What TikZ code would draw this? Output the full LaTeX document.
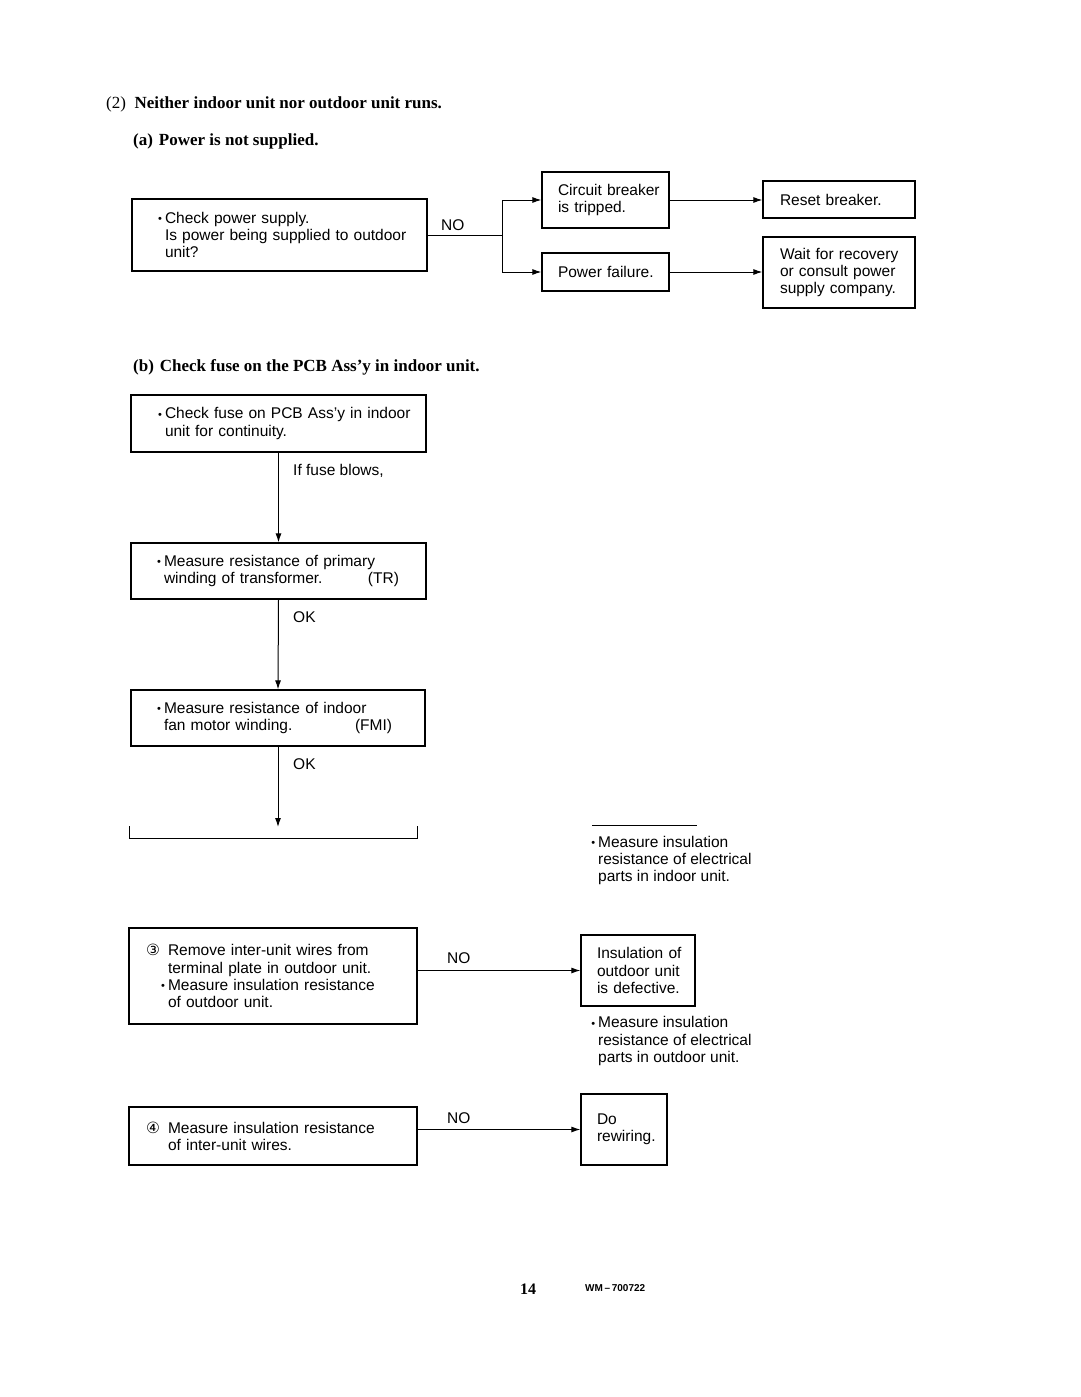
\documentclass[tikz,border=0pt]{standalone}
\usepackage{fontspec}
\setmainfont{Liberation Serif}
\setsansfont{Liberation Sans}
\newfontfamily\circfont{DejaVu Sans}
\usetikzlibrary{arrows.meta}
\newcommand\bodyfont{\sffamily\fontsize{15.5}{17.3}\selectfont\hyphenpenalty=10000\exhyphenpenalty=10000}
\newcommand\ttlfont{\rmfamily\bfseries\fontsize{17}{20}\selectfont}
\newcommand\bul{\llap{\raisebox{0.5pt}{\fontsize{11}{11}\selectfont•}\hspace{3pt}}}
\newcommand\lne[1]{\mbox{#1}}
\tikzset{
  box/.style={draw, line width=1.3pt, align=left, font=\bodyfont, inner ysep=0pt},
  thickbox/.style={box, line width=2.4pt},
  ln/.style={line width=1pt},
  arr/.style={ln, -{Latex[length=9pt,width=6pt]}},
  ttl/.style={font=\ttlfont, anchor=base west, inner sep=0pt},
  lbl/.style={font=\bodyfont, anchor=west, inner sep=0pt, align=left},
}
\begin{document}
\begin{tikzpicture}[x=1pt,y=-1pt]
\fill[white] (0,0) rectangle (1080,1397);
\useasboundingbox (0,0) rectangle (1080,1397);

% titles
\node[ttl] (t2) at (106,108) {{\mdseries(2)}\hspace{0.5em}Neither indoor unit nor outdoor unit runs.};
\node[ttl] (ta) at (133,145) {(a)\hspace{0.35em}Power is not supplied.};
\node[ttl] (tb) at (133,371) {(b)\hspace{0.35em}Check fuse on the PCB Ass'y in indoor unit.};

% part (a)
\node[thickbox, text width=229pt, inner xsep=33pt, minimum height=72pt] (chk) at (279.5,235)
  {\lne{\bul Check power supply.}\\\lne{Is power being supplied to outdoor}\\\lne{unit?}};
\node[box, text width=95pt, inner xsep=16pt, minimum height=56pt] (cb) at (605.5,200)
  {\lne{Circuit breaker}\\\lne{is tripped.}};
\node[box, text width=95pt, inner xsep=16pt, minimum height=38pt] (pf) at (605.5,272)
  {\lne{Power failure.}};
\node[box, text width=118pt, inner xsep=17pt, minimum height=37pt] (rb) at (839,199.5)
  {\lne{Reset breaker.}};
\node[box, text width=118pt, inner xsep=17pt, minimum height=71pt] (wr) at (839,272.5)
  {\lne{Wait for recovery}\\\lne{or consult power}\\\lne{supply company.}};

\coordinate (split) at (502,235);
\draw[ln] (chk.east) -- (split);
\draw[arr] (split) |- (cb.west);
\draw[arr] (split) |- (pf.west);
\node[lbl] (no1) at (441,225) {NO};
\draw[arr] (cb.east) -- (cb.east -| rb.west);
\draw[arr] (pf.east) -- (pf.east -| wr.west);

% part (b)
\node[box, text width=227pt, inner xsep=34pt, minimum height=57pt] (fuse) at (278.5,423.5)
  {\lne{\bul Check fuse on PCB Ass'y in indoor}\\\lne{unit for continuity.}};
\node[box, text width=229pt, inner xsep=33pt, minimum height=56pt] (tr) at (278.5,571)
  {\lne{\bul Measure resistance of primary}\\\lne{\makebox[204pt][l]{winding of transformer.}(TR)}};
\node[box, text width=228pt, inner xsep=33pt, minimum height=56pt] (fm) at (278,718)
  {\lne{\bul Measure resistance of indoor}\\\lne{\makebox[191pt][l]{fan motor winding.}(FMI)}};

\draw[arr] (fuse.south) -- (tr.north);
\node[lbl] (ifb) at (293,471) {If fuse blows,};
\draw[arr] (tr.south) -- (fm.north);
\node[lbl] (ok1) at (293,617) {OK};
\coordinate (bend) at (278,827);
\draw[arr] (fm.south) -- (bend);
\node[lbl] (ok2) at (293,764) {OK};

\coordinate (bl) at (129,826);
\coordinate (br) at (417,826);
\coordinate (bb) at (0,838);
\draw[ln] (bl) -- (bl |- bb) -- (br |- bb) -- (br);

\coordinate (m1) at (592,825);
\coordinate (m2) at (697,825);
\draw[ln] (m1) -- (m2);
\node[lbl] (ins1) at (598,860.5)
  {\lne{\bul Measure insulation}\\\lne{resistance of electrical}\\\lne{parts in indoor unit.}};

% step 3
\node[thickbox, text width=210pt, inner xsep=39pt, minimum height=96pt] (rm3) at (273,976)
  {\lne{\llap{{\circfont ③}\hspace{8pt}}Remove inter-unit wires from}\\\lne{terminal plate in outdoor unit.}\\\lne{\bul Measure insulation resistance}\\\lne{of outdoor unit.}};
\node[box, text width=82pt, inner xsep=16pt, minimum height=71pt] (iod) at (638,970.5)
  {\lne{Insulation of}\\\lne{outdoor unit}\\\lne{is defective.}};
\draw[arr] (rm3.east |- iod.west) -- (iod.west);
\node[lbl] (no3) at (447,958) {NO};
\node[lbl] (ins2) at (598,1041)
  {\lne{\bul Measure insulation}\\\lne{resistance of electrical}\\\lne{parts in outdoor unit.}};

% step 4
\node[thickbox, text width=210pt, inner xsep=39pt, minimum height=58pt] (mi4) at (273,1136)
  {\lne{\llap{{\circfont ④}\hspace{8pt}}Measure insulation resistance}\\\lne{of inter-unit wires.}};
\node[box, text width=54pt, inner xsep=16pt, minimum height=71pt] (rw) at (624,1129.5)
  {\lne{Do}\\\lne{rewiring.}};
\draw[arr] (mi4.east |- rw.west) -- (rw.west);
\node[lbl] (no4) at (447,1118) {NO};

% footer
\node[font=\rmfamily\bfseries\fontsize{16}{18}\selectfont, inner sep=0pt] (pg) at (528,1289) {14};
\node[font=\sffamily\bfseries\fontsize{10}{12}\selectfont, inner sep=0pt, anchor=west] (doc) at (585,1288) {WM\,--\,700722};
\end{tikzpicture}
\end{document}
